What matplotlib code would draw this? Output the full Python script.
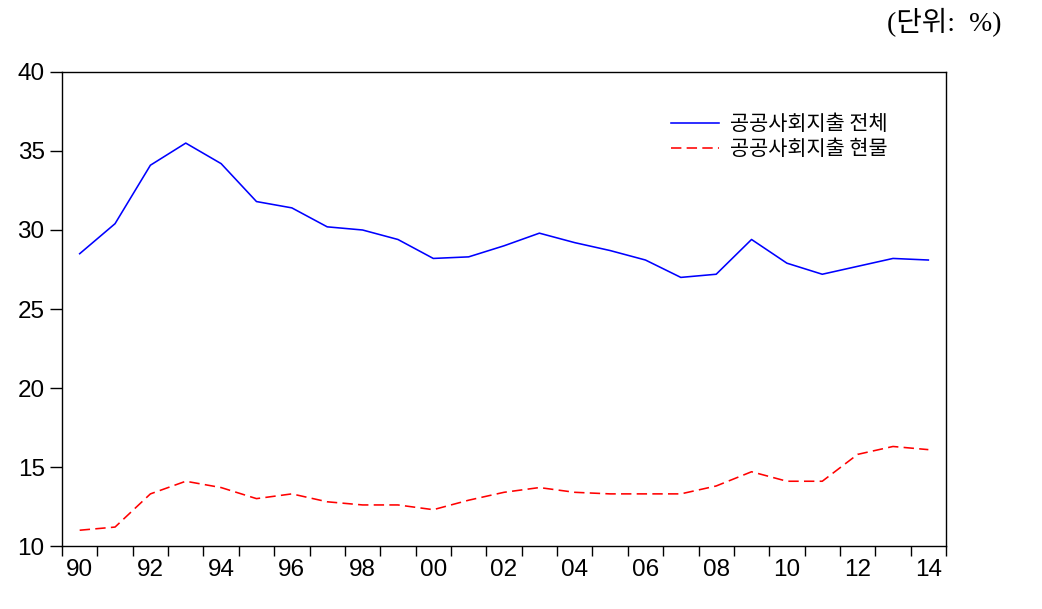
import matplotlib
matplotlib.use("Agg")
import matplotlib.pyplot as plt
import numpy as np

years = list(range(1990, 2015))
total = [28.5, 30.4, 34.1, 35.5, 34.2, 31.8, 31.4, 30.2, 30.0, 29.4,
         28.2, 28.3, 29.0, 29.8, 29.2, 28.7, 28.1, 27.0, 27.2, 29.4,
         27.9, 27.2, 27.7, 28.2, 28.1]
inkind = [11.0, 11.2, 13.3, 14.1, 13.7, 13.0, 13.3, 12.8, 12.6, 12.6,
          12.3, 12.9, 13.4, 13.7, 13.4, 13.3, 13.3, 13.3, 13.8, 14.7,
          14.1, 14.1, 15.8, 16.3, 16.1]
labels = ["공공사회지출 전체", "공공사회지출 현물"]
tick_years = list(range(1990, 2015, 2))

plt.rcParams["font.family"] = ["Liberation Sans", "Noto Sans CJK KR"]

fig = plt.figure(figsize=(10.42, 6.09), dpi=100)
ax = fig.add_axes([0.0595, 0.1034, 0.8484, 0.7784])

ax.plot(years, total, color="#0000ff", lw=1.15, label=labels[0])
ax.plot(years, inkind, color="#ff0000", lw=1.15, ls=(0, (6.5, 3.3)), label=labels[1])

ax.set_xlim(1989.5, 2014.5)
ax.set_ylim(10, 40)
ax.set_yticks(np.arange(10, 41, 5))
ax.set_yticklabels([str(v) for v in range(10, 41, 5)], fontsize=17.5)

# ticks at year boundaries, labels at even years
ax.set_xticks(np.arange(1989.5, 2015, 1))
ax.set_xticklabels([])
ax.set_xticks(tick_years, minor=True)
ax.set_xticklabels([f"{y % 100:02d}" for y in tick_years], minor=True, fontsize=17.5)
ax.tick_params(axis="x", which="minor", length=0, pad=9.5)
ax.tick_params(axis="x", which="major", direction="out", length=7, width=1)
ax.tick_params(axis="y", direction="out", length=8.5, width=1, pad=4)

for s in ax.spines.values():
    s.set_linewidth(1.0)

leg = ax.legend(loc="upper left", bbox_to_anchor=(0.68, 0.931), frameon=False,
                prop={"family": ["Noto Sans CJK KR"], "size": 15},
                handlelength=2.3, handletextpad=0.5, labelspacing=0.15,
                borderaxespad=0)

fig.text(0.961, 0.963, "(단위:  %)", ha="right", va="center", fontsize=20,
         family=["Liberation Serif", "Noto Sans CJK KR"])

fig.savefig("out.png", dpi=100)
